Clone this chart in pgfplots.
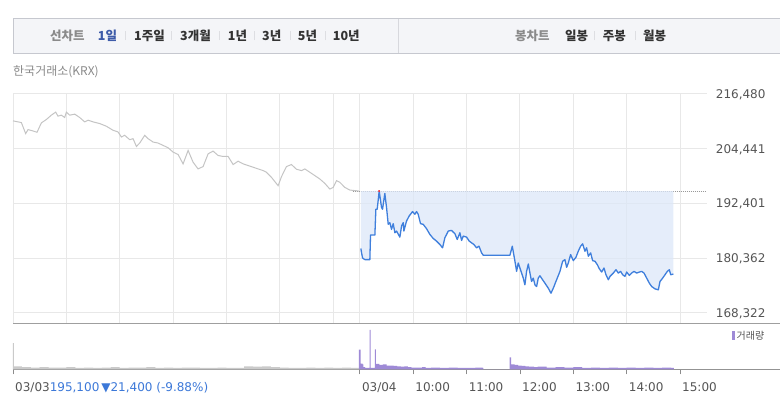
\documentclass[border=0pt]{standalone}
\usepackage{pgfplots}
\pgfplotsset{compat=1.18}
\usepackage{pgfplotstable}
\usepgfplotslibrary{fillbetween}
\usepackage{fontspec}
\setmainfont{DejaVu Sans}
\newfontfamily\kr{Noto Sans CJK KR}
\definecolor{gridc}{HTML}{E8E8E8}
\definecolor{grayline}{HTML}{C4C4C4}
\definecolor{blueline}{HTML}{3F7FDC}
\definecolor{bluefill}{HTML}{DCE7F8}
\definecolor{volpur}{HTML}{9E8AD6}
\definecolor{volgray}{HTML}{CACACA}
\definecolor{labc}{HTML}{555555}
\definecolor{stblue}{HTML}{3C78D8}
\definecolor{hdrfill}{HTML}{F4F5F8}
\definecolor{hdrbord}{HTML}{C6C8CF}
\definecolor{hdrblue}{HTML}{3D5BA9}
\definecolor{hdrdark}{HTML}{333333}
\definecolor{hdrgray}{HTML}{8A8A8A}

\pgfplotstableread{
m p
-390 210562
-384.4 210340
-380.6 210192
-375.75 207751
-373.1 208638
-367.5 208342
-363 208047
-358.1 210118
-352.5 210858
-346.9 211820
-342 212485
-339.4 211598
-335.6 211820
-331.9 211302
-330 212485
-326.25 211820
-320.6 212042
-315 211302
-309.4 210340
-305.6 210710
-300 210340
-292.5 209970
-285 209378
-277.5 208490
-271.9 208120
-268.1 207011
-264.4 207381
-258.75 206419
-255 206641
-251.25 204939
-247.5 205679
-241.9 207381
-238.1 206641
-232.5 205901
-226.9 205679
-221.25 205162
-215.6 204644
-210 203682
-204.4 203164
-198.75 201093
-193.1 204052
-187.5 201462
-181.9 199983
-176.25 200500
-170.6 203312
-165 203904
-159.4 202942
-153.75 202720
-148.1 202720
-142.5 200944
-136.9 201684
-131.25 201093
-125.6 200723
-120 200353
-114.4 199983
-108.75 199613
-105 199243
-99.4 198133
-91.9 196284
-88.1 198281
-82.5 200500
-76.9 200944
-71.25 199909
-65.6 199613
-61.9 199983
-56.25 199243
-50.6 198503
-45 197763
-39.4 196801
-33.75 195544
-30 195914
-26.25 197393
-22.5 197023
-16.9 195914
-11.25 195322
-3.75 195174
-1 195100
}\grayt

\pgfplotstableread{
m p
1.1 182450
3.0 180379
5.6 180009
11.25 180009
12 185409
16.9 185409
18 191106
19.5 191106
21.75 195100
24.4 191476
25.5 191106
28.1 194583
30 191476
31.9 187777
33.75 188147
35.6 186667
37.5 187925
39.4 185927
41.25 186297
45 184965
46.9 187407
48.75 188147
49.5 186297
52.5 188518
55.5 189626
59.25 190588
61.9 189996
63.75 190588
65.6 189996
68.25 187925
71.25 187777
75 186815
78.75 185557
82.5 184670
86.25 184078
90 183338
93 182598
95.6 184817
99.4 186297
103.1 186445
106.9 185705
109.5 184448
112.5 185927
114.4 184226
116.25 185188
120 184965
123 184078
125.6 183708
128.25 183338
131.25 182598
133.9 182968
136.9 181488
138.75 180970
168.75 180970
171.4 182968
174.4 179639
176.25 177419
178.1 179269
180 178160
183.75 175940
185.6 174460
187.5 177419
189.4 179047
191.25 177049
193.1 175200
195 175940
196.9 174460
198.75 174090
200.6 175940
202.5 176458
205.5 175570
208.1 174830
211.9 173720
214.9 172611
217.5 173720
221.25 175570
225 177419
228 179639
230.6 180009
232.5 178308
234.4 179269
237 181118
240 179787
243 180527
245.6 181858
248.25 182968
250.5 183486
253.1 181858
255 182598
256.9 180749
259.5 181488
261.75 179787
264.4 179639
267 178899
269.25 178011
271.9 177271
274.5 178160
276.75 176680
279.4 175570
281.25 176310
285 177049
288 177789
290.6 177049
293.25 177419
295.5 176680
298.1 176310
300 177271
303 176532
305.6 177049
308.25 177419
311.25 177049
314.25 177271
316.9 177419
319.5 177049
322.5 175940
325.5 174830
328.1 174090
331.9 173572
335.6 173350
337.5 175200
340.5 175940
343.1 176680
345.75 177419
348 177789
349.5 176680
352.5 176828
}\bluet

\begin{document}
\begin{tikzpicture}[x=1pt,y=1pt]
% header bar
\fill[hdrfill] (13,352.7) rectangle (780,387.7);
\draw[hdrbord, line width=1pt] (780,352.7) -- (13,352.7) -- (13,387.7) -- (780,387.7);
\draw[hdrbord!70, line width=0.8pt] (398,353.2) -- (398,387.2);
\begin{scope}[every node/.style={anchor=west, inner sep=0pt, font=\kr\bfseries\fontsize{12.5}{14}\selectfont}]
\node[text=hdrgray] at (50,370) {선차트};
\node[text=hdrblue] at (97.7,370) {1일};
\node[text=hdrdark] at (134,370) {1주일};
\node[text=hdrdark] at (180,370) {3개월};
\node[text=hdrdark] at (227.7,370) {1년};
\node[text=hdrdark] at (262,370) {3년};
\node[text=hdrdark] at (297.7,370) {5년};
\node[text=hdrdark] at (332.7,370) {10년};
\node[text=hdrgray] at (515,370) {봉차트};
\node[text=hdrdark] at (565,370) {일봉};
\node[text=hdrdark] at (602.7,370) {주봉};
\node[text=hdrdark] at (643,370) {월봉};
\end{scope}
\foreach \sx in {125,171.7,219,254.3,290,325,594,635}{
  \draw[hdrbord!60, line width=0.7pt] (\sx,365.5) -- (\sx,374.5);
}
\node[anchor=west, inner sep=0pt, text=hdrgray, font=\kr\fontsize{12}{14}\selectfont] at (13,334.5) {한국거래소(KRX)};

% price panel
\begin{axis}[
  at={(13pt,82.7pt)}, anchor=south west, scale only axis,
  width=693.7pt, height=229.3pt,
  xmin=-390, xmax=390, ymin=165988, ymax=216480,
  axis line style={draw=none}, major tick length=0pt,
  scaled y ticks=false, scaled x ticks=false,
  xtick={-390,-330,-270,-210,-150,-90,-30,0,60,120,180,240,300,360},
  xticklabel={\phantom{0}},
  ytick={168322,180362,192401,204441,216480},
  yticklabels={{168,322},{180,362},{192,401},{204,441},{216,480}},
  yticklabel pos=right,
  yticklabel style={anchor=west, inner sep=0pt, xshift=9pt, text=labc,
    font=\fontsize{12}{14}\selectfont, text height=8.7pt, text depth=0pt},
  grid=major, major grid style={draw=gridc, line width=1pt},
  clip=false,
]
\addplot[gray!80, line width=0.7pt, dash pattern=on 1pt off 1pt] coordinates {(-8,195100) (390,195100)};
\addplot[grayline, line width=1pt] table[x=m,y=p] {\grayt};
\addplot[name path=bl, draw=none] table[x=m,y=p] {\bluet};
\addplot[name path=ref, draw=none] coordinates {(1.1,195100) (352.5,195100)};
\addplot[fill=bluefill, fill opacity=0.75, draw=none] fill between[of=bl and ref, on layer=main];
\addplot[blueline, line width=1.3pt, line join=round] table[x=m,y=p] {\bluet};
\addplot[only marks, mark=*, mark size=0.8pt, red!80] coordinates {(21.75,195100)};
\end{axis}

% bottom separator line
\draw[gray!75, line width=1.3pt] (13,82.7) -- (780,82.7);

% volume panel
\begin{axis}[
  at={(13pt,36.5pt)}, anchor=south west, scale only axis,
  width=767pt, height=39.5pt,
  xmin=-390, xmax=472.4, ymin=0, ymax=100,
  axis x line*=bottom, axis y line=none,
  x axis line style={draw=gray!85, line width=1pt},
  xtick={-390,0,60,120,180,240,300,360},
  xticklabels={{03/03\textcolor{stblue}{195,100\,▼21,400 (-9.88\%)}},{03/04},{10:00},{11:00},{12:00},{13:00},{14:00},{15:00}},
  xticklabel style={anchor=north west, inner sep=0pt, xshift=2pt, yshift=-7.5pt, text=labc,
    font=\fontsize{12}{14}\selectfont},
  tick align=outside, major tick length=5pt,
  xtick style={draw=gray!90, line width=0.8pt},
  clip=false,
]
\addplot[const plot, fill=volgray, draw=none] coordinates {
(-390,67)(-389,8)(-380,6)(-370,5)(-360,6)(-350,5)(-340,5)(-330,6)(-320,4)(-310,5)(-300,4)(-290,5)(-280,6)(-270,4)(-260,5)(-250,5)(-240,6)(-230,4)(-220,5)(-210,4)(-200,5)(-190,5)(-180,4)(-170,4)(-160,5)(-150,4)(-140,4)(-130,8)(-120,7)(-110,8)(-100,6)(-90,5)(-80,4)(-70,4)(-60,5)(-50,4)(-40,5)(-30,4)(-20,5)(-10,4)(-2,4)(-1,0)} \closedcycle;
\addplot[const plot, fill=volpur, draw=none] coordinates {
(-1,50)(1,15)(3,13)(4,6)(6,4)(10.5,4)(11,100)(12,4)(16.5,4)(17,51)(18,14)(22,12)(26,13)(30,10)(34,10)(38,9)(42,8)(46,7)(50,8)(54,6)(58,5)(62,5)(66,5)(70,6)(74,4)(80,5)(90,4)(100,5)(110,4)(120,4)(130,5)(138,4)(139,0)(168,0)(168.5,31)(170,13)(174,12)(178,10)(182,9)(186,8)(190,7)(196,6)(200,7)(210,5)(220,6)(230,5)(240,6)(250,4)(260,5)(270,4)(280,5)(290,4)(300,5)(310,4)(320,5)(330,4)(340,5)(350,4)(353,0)} \closedcycle;
\end{axis}

% volume legend
\fill[volpur] (731.7,65.5) rectangle (734.7,74.5);
\node[anchor=west, inner sep=0pt, text=labc, font=\kr\fontsize{10}{12}\selectfont] at (736.5,70) {거래량};

\pgfresetboundingbox
\path[use as bounding box] (0,0) rectangle (780,406);
\end{tikzpicture}
\end{document}
